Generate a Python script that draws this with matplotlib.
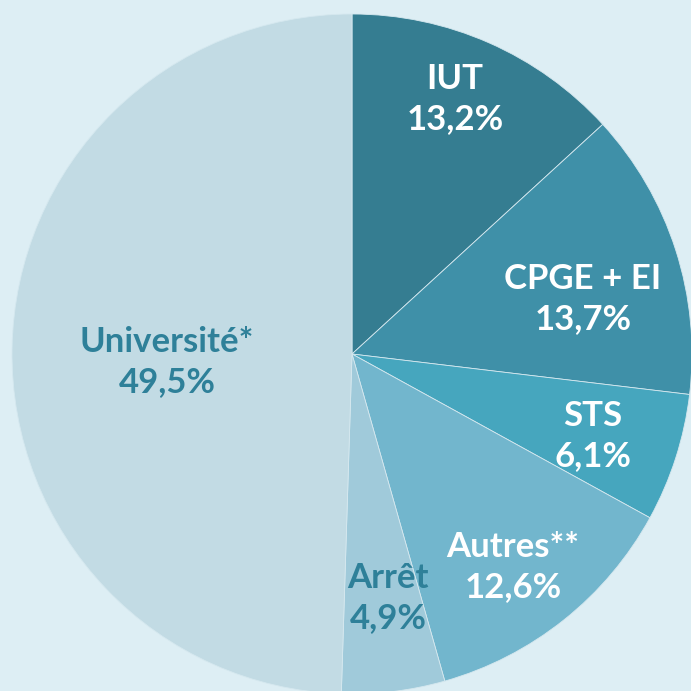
import matplotlib
matplotlib.use("Agg")
import matplotlib.pyplot as plt

categories = ["IUT", "CPGE + EI", "STS", "Autres**", "Arrêt", "Université*"]
values = [13.2, 13.7, 6.1, 12.6, 4.9, 49.5]
labels_pct = ["13,2%", "13,7%", "6,1%", "12,6%", "4,9%", "49,5%"]
colors = ["#357D91", "#3F90A8", "#46A6BE", "#72B6CD", "#A0CADA", "#C2DBE4"]
text_colors = ["white", "white", "white", "white", "#2E8099", "#2E8099"]
label_pos = [(455, 99), (583, 299), (593, 436), (513, 567), (388, 598), (167, 362)]

W = H = 691
fig = plt.figure(figsize=(W / 100, H / 100), dpi=100)
bg = "#DDEEF4"
fig.patch.set_facecolor(bg)
ax = fig.add_axes([0, 0, 1, 1])
ax.set_facecolor(bg)

cx, cy, r = 352, 354, 340
# y axis inverted -> counterclock=True gives clockwise visually
ax.pie(values, colors=colors, startangle=-90, counterclock=True,
       center=(cx, cy), radius=r, frame=True,
       wedgeprops=dict(edgecolor="#D5E8EF", linewidth=0.6))
ax.set_xlim(0, W)
ax.set_ylim(H, 0)
ax.set_aspect("equal")
ax.axis("off")

for cat, pct, (x, y), tc in zip(categories, labels_pct, label_pos, text_colors):
    ax.text(x, y, cat + "\n" + pct, ha="center", va="center", color=tc,
            fontsize=25, fontweight="bold", family=["Lato", "DejaVu Sans"],
            linespacing=1.28)

fig.savefig("out.png", dpi=100, facecolor=bg)
